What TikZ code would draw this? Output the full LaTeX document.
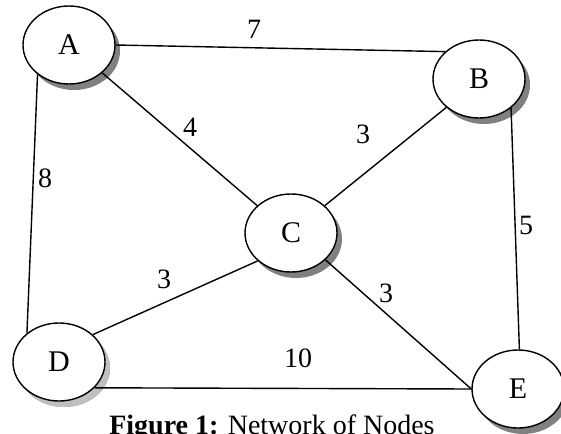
\documentclass[tikz,border=0pt]{standalone}
\usepackage{fontspec}
\setmainfont{Liberation Serif}
\usetikzlibrary{shapes.geometric,shadows}
\tikzset{
  x=1pt, y=-1pt,
  netnode/.style={ellipse, draw=black, line width=1.4pt, fill=white,
    minimum width=92pt, minimum height=78pt, inner sep=0pt,
    font=\fontsize{30}{30}\selectfont,
    drop shadow={shadow xshift=5pt, shadow yshift=-6pt, fill=black!50, opacity=1}},
  lightshadow/.style={drop shadow={shadow xshift=5pt, shadow yshift=-6pt, fill=black!25, opacity=1}},
  link/.style={line width=1.4pt, black},
  wlabel/.style={font=\fontsize{28}{30}\selectfont, inner sep=0pt}
}
\begin{document}
\begin{tikzpicture}
\useasboundingbox (0,0) rectangle (561,433);
\node[netnode] (A) at (69,45) {A};
\node[netnode] (B) at (479,79) {B};
\node[netnode] (C) at (291,233) {C};
\node[netnode, lightshadow] (D) at (59,362) {D};
\node[netnode] (E) at (518,389) {E};
\draw[link] (A.east) -- (B.141);
\draw[link] (A.-40) -- (C.141);
\draw[link] (A.223) -- (D.138);
\draw[link] (B.221) -- (C.39);
\draw[link] (B.-42) -- (E.88);
\draw[link] (C.220) -- (D.39);
\draw[link] (C.-38) -- (E.west);
\draw[link] (D.-36) -- (E.west);
\node[wlabel] (l7) at (254,29) {7};
\node[wlabel] (l4) at (190,127) {4};
\node[wlabel] (l3a) at (363,134) {3};
\node[wlabel] (l8) at (45,178) {8};
\node[wlabel] (l5) at (526,225) {5};
\node[wlabel] (l3b) at (164,279) {3};
\node[wlabel] (l3c) at (386,293) {3};
\node[wlabel] (l10) at (298,358) {10};
\node[anchor=base, inner sep=0pt, font=\fontsize{28}{30}\selectfont] (cap) at (272,434) {\textbf{Figure 1:} Network of Nodes};
\end{tikzpicture}
\end{document}
